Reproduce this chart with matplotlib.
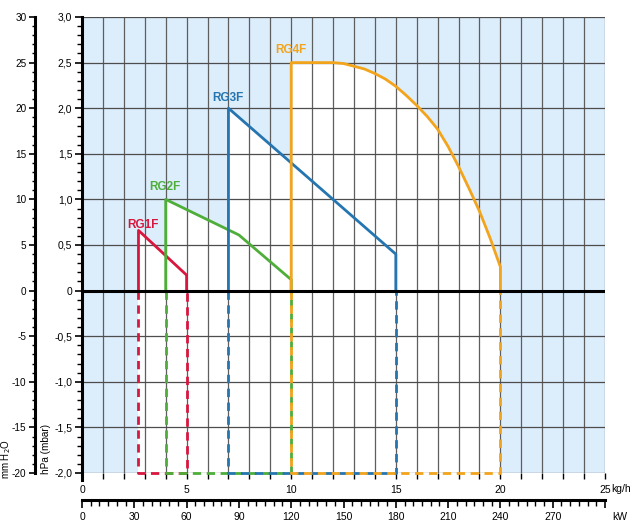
import matplotlib
matplotlib.use("Agg")
import matplotlib.pyplot as plt
from matplotlib.ticker import MultipleLocator, FuncFormatter, FixedLocator

plt.rcParams['font.family'] = ['Liberation Sans', 'DejaVu Sans']
plt.rcParams['axes.unicode_minus'] = False

# ---- data ----
names = ["RG1F", "RG2F", "RG3F", "RG4F"]
rg1_x = [2.7, 2.7, 5.0, 5.0]
rg1_y = [0.0, 0.66, 0.17, 0.0]
rg2_x = [4.0, 4.0, 7.5, 10.0, 10.0]
rg2_y = [0.0, 1.0, 0.61, 0.12, 0.0]
rg3_x = [7.0, 7.0, 15.0, 15.0]
rg3_y = [0.0, 2.0, 0.40, 0.0]
rg4_x = [10.0, 10.0, 12.0, 12.5, 13.0, 13.5, 14.0, 14.5, 15.0, 15.5, 16.0, 16.5,
         17.0, 17.5, 18.0, 18.5, 19.0, 19.5, 20.0, 20.0]
rg4_y = [0.0, 2.5, 2.5, 2.49, 2.46, 2.43, 2.38, 2.32, 2.24, 2.14, 2.03, 1.91,
         1.77, 1.58, 1.36, 1.12, 0.87, 0.58, 0.26, 0.0]
label_pos = [(2.9, 0.72), (3.95, 1.14), (6.95, 2.11), (10.0, 2.64)]
colors = ["#d8173f", "#4fae3a", "#2575b0", "#f2a41c"]

hpa_ticks = [-2.0, -1.5, -1.0, -0.5, 0.0, 0.5, 1.0, 1.5, 2.0, 2.5, 3.0]
kgh_ticks = [0, 5, 10, 15, 20, 25]
kw_ticks = [0, 30, 60, 90, 120, 150, 180, 210, 240, 270]
mm_ticks = [-20, -15, -10, -5, 0, 5, 10, 15, 20, 25, 30]

series_x = [rg1_x, rg2_x, rg3_x, rg4_x]
series_y = [rg1_y, rg2_y, rg3_y, rg4_y]

W, H = 639, 532
fig = plt.figure(figsize=(W / 100, H / 100), dpi=100)
L, R, T, B = 82, 605, 17, 473
ax = fig.add_axes([L / W, (H - B) / H, (R - L) / W, (B - T) / H])
ax.set_xlim(0, 25)
ax.set_ylim(-2.0, 3.0)
ax.set_facecolor("#dcedfb")

# white envelope
for xs, ys in zip(series_x, series_y):
    ax.fill(xs, ys, color="white", zorder=1, lw=0)
ax.fill([min(rg1_x), max(rg4_x), max(rg4_x), min(rg1_x)], [-2, -2, 0, 0],
        color="white", zorder=1, lw=0)

# grid
for gx in range(1, 26):
    ax.axvline(gx, color="#5e5e5e", lw=0.9, zorder=2)
for gy in hpa_ticks:
    ax.axhline(gy, color="#4d4d4d", lw=0.9, zorder=2)
ax.axhline(0, color="black", lw=2.2, zorder=5)

# curves
for i, (xs, ys) in enumerate(zip(series_x, series_y)):
    ax.plot(xs, ys, color=colors[i], lw=2.0, zorder=4, solid_joinstyle="round")
    x0, x1 = xs[0], xs[-1]
    ax.plot([x0, x0, x1, x1], [0, -2, -2, 0], color=colors[i], lw=2.0,
            dashes=(3, 2.0), zorder=4, clip_on=False)
    ax.text(label_pos[i][0], label_pos[i][1], names[i], color=colors[i],
            fontsize=8.5, fontweight="bold", ha="center", va="center", zorder=6)

# spines
for s in ["top", "right"]:
    ax.spines[s].set_visible(False)
ax.spines["left"].set_linewidth(2.2)
ax.spines["left"].set_bounds(-2.08, 3.0)
ax.spines["left"].set_zorder(6)
ax.spines["bottom"].set_visible(False)

# left hPa axis
ax.yaxis.set_major_locator(FixedLocator(hpa_ticks))
ax.yaxis.set_minor_locator(MultipleLocator(0.1))
ax.yaxis.set_major_formatter(FuncFormatter(
    lambda v, p: "0" if abs(v) < 1e-9 else ("%.1f" % v).replace(".", ",")))
ax.tick_params(axis="y", which="major", length=5, width=1.2, pad=2, labelsize=7.5)
ax.tick_params(axis="y", which="minor", length=3.5, width=1.0)

# bottom kg/h axis
ax.xaxis.set_major_locator(FixedLocator(kgh_ticks))
ax.xaxis.set_minor_locator(MultipleLocator(1))
ax.xaxis.set_major_formatter(FuncFormatter(lambda v, p: "%d" % v))
ax.tick_params(axis="x", which="both", length=4.3, width=1.0, pad=4, labelsize=7.5)
ax.text(25.28, -2.0 - 11.5 / 91.2, "kg/h", fontsize=7.5, ha="left", va="top")

# mm H2O axis
sec = ax.secondary_yaxis(-(L - 35) / (R - L), functions=(lambda v: v * 10, lambda v: v / 10))
sec.spines["left"].set_linewidth(2.2)
sec.yaxis.set_major_locator(FixedLocator(mm_ticks))
sec.yaxis.set_minor_locator(MultipleLocator(1))
sec.yaxis.set_major_formatter(FuncFormatter(lambda v, p: "%d" % round(v)))
sec.tick_params(axis="y", which="major", length=4.5, width=1.2, pad=1.5, labelsize=7.2)
sec.tick_params(axis="y", which="minor", length=2.2, width=1.0)

# kW axis
kw = ax.secondary_xaxis((B - 500) / (B - T), functions=(lambda v: v * 12, lambda v: v / 12))
kw.spines["bottom"].set_linewidth(2.2)
kw.xaxis.set_major_locator(FixedLocator(kw_ticks + [300]))
kw.xaxis.set_minor_locator(MultipleLocator(5))
kw.xaxis.set_major_formatter(FuncFormatter(lambda v, p: "" if v > 285 else "%d" % round(v)))
kw.tick_params(axis="x", which="major", length=5.5, width=1.2, pad=3, labelsize=7.5)
kw.tick_params(axis="x", which="minor", length=4.5, width=1.0)
fig.text(620 / W, (H - 517) / H, "kW", fontsize=7.5, ha="center", va="center")

# axis titles
fig.text(6 / W, (H - 479) / H, "mm H$_2$O", rotation=90, fontsize=7.0,
         ha="center", va="bottom")
fig.text(46 / W, (H - 474) / H, "hPa (mbar)", rotation=90, fontsize=7.2,
         ha="center", va="bottom")

fig.savefig("out.png", dpi=100)
